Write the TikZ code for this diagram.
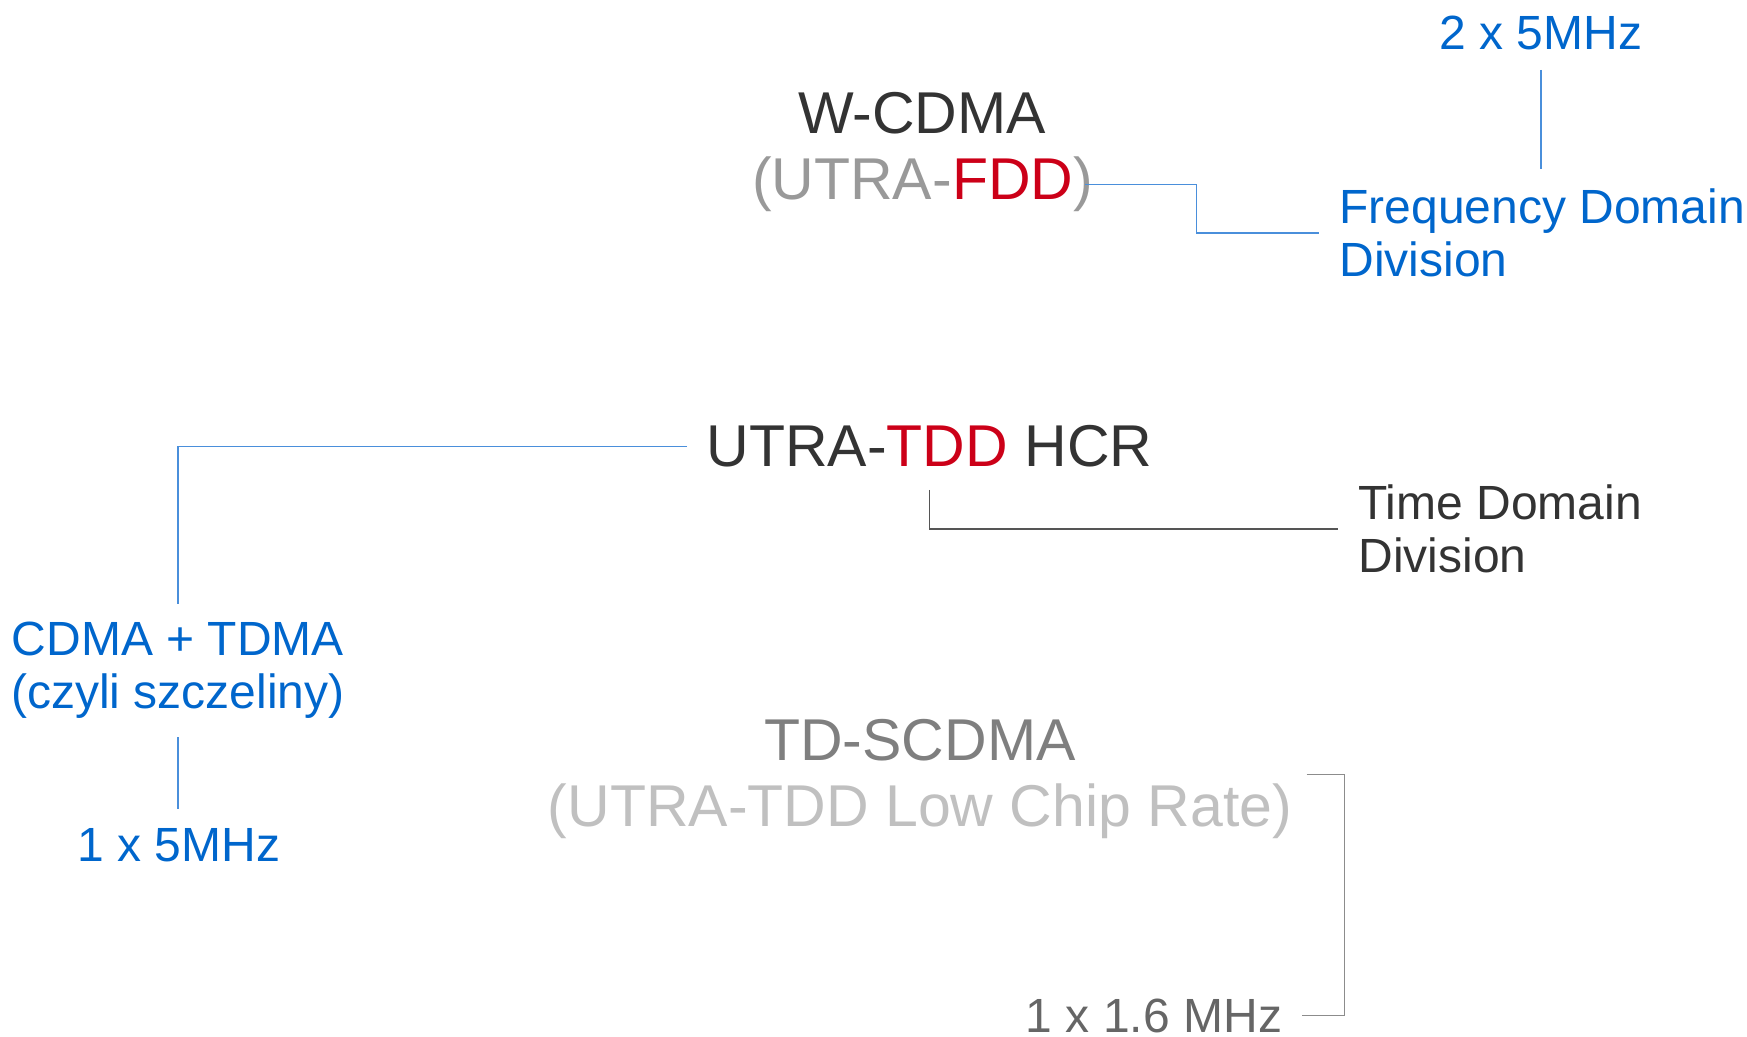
\documentclass[tikz,border=0pt]{standalone}
\usepackage{fontspec}
\setmainfont{Liberation Sans}
\usetikzlibrary{calc}
\definecolor{cblue}{HTML}{0066CC}
\definecolor{cline}{HTML}{4A8FDB}
\definecolor{cdark}{HTML}{333333}
\definecolor{cred}{HTML}{CC0018}
\definecolor{cgrayA}{HTML}{999999}
\definecolor{cgrayB}{HTML}{7F7F7F}
\definecolor{cgrayC}{HTML}{C0C0C0}
\definecolor{cgrayD}{HTML}{666666}
\definecolor{cbracket}{HTML}{8C8C8C}
\definecolor{ctdline}{HTML}{555555}
\newcommand\fbig{\fontsize{29.5pt}{33pt}\selectfont}
\newcommand\fsmall{\fontsize{24pt}{26.5pt}\selectfont}
\begin{document}
\begin{tikzpicture}[x=0.5pt,y=-0.5pt,
  bigtxt/.style={font=\fbig, inner sep=0pt},
  smalltxt/.style={font=\fsmall, inner xsep=10pt, inner ysep=9.5pt},
  blueline/.style={draw=cline, line width=0.65pt},
  grayline/.style={draw=ctdline, line width=0.65pt},
  brline/.style={draw=cbracket, line width=0.6pt}]
\useasboundingbox (0,0) rectangle (1747,1037);
% top group
\node[bigtxt, text=cdark, anchor=base] (wcdma) at (922,134) {W-CDMA};
\node[bigtxt, text=cgrayA, anchor=base] (utrafdd) at (922.5,200) {(UTRA-\textcolor{cred}{FDD})};
\node[smalltxt, text=cblue, anchor=base] (twofive) at (1541,50) {2 x 5MHz};
\node[smalltxt, text=cblue, align=left, anchor=west] (freq) at (1319,233) {Frequency Domain\\Division};
% middle group
\node[bigtxt, text=cdark, anchor=base, inner xsep=9.5pt, inner ysep=11pt] (hcr) at (929.5,467) {UTRA-\textcolor{cred}{TDD} HCR};
\node[smalltxt, text=cdark, align=left, anchor=west] (tdd) at (1338,529) {Time Domain\\Division};
\node[smalltxt, text=cblue, align=center, inner ysep=9pt] (cdma) at (178,670.5) {CDMA + TDMA\\(czyli szczeliny)};
\node[smalltxt, text=cblue, anchor=base] (onefive) at (179,861) {1 x 5MHz};
% bottom group
\node[bigtxt, align=center, inner xsep=7pt] (tds) at (920,779.5) {\textcolor{cgrayB}{TD-SCDMA}\\\textcolor{cgrayC}{(UTRA-TDD Low Chip Rate)}};
\node[smalltxt, text=cgrayD, anchor=base, inner ysep=1pt] (onemhz) at (1154,1032) {1 x 1.6 MHz};
% connectors
\draw[blueline] (twofive.south) -- (twofive.south |- freq.north);
\draw[blueline] ($(utrafdd.east)+(-8,0)$) -- ++(111,0) |- (freq.west);
\draw[blueline] (hcr.west) -| (cdma.north);
\draw[blueline] (cdma.south) -- (cdma.south |- onefive.north);
\draw[grayline] (hcr.south) |- (tdd.west);
\draw[brline] ($(tds.east)+(0,-5)$) -- ++(38,0) |- (onemhz.east);
\end{tikzpicture}
\end{document}
